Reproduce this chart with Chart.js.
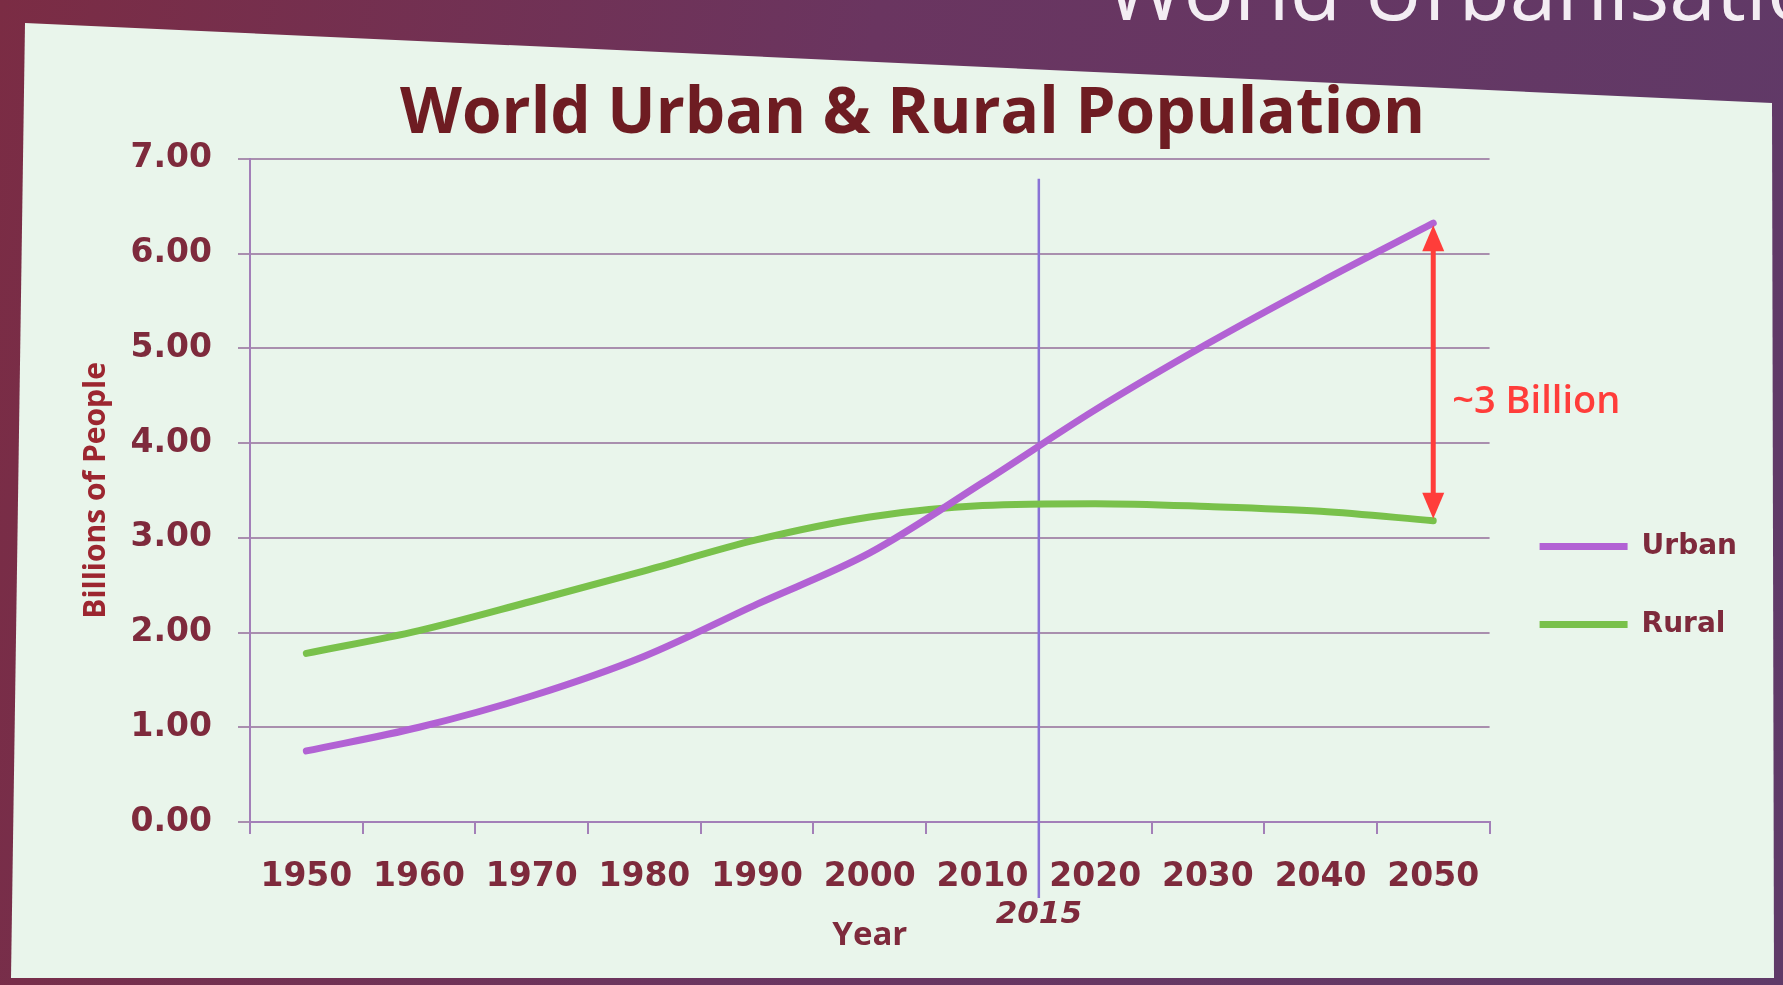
<!DOCTYPE html>
<html>
<head>
<meta charset="utf-8">
<title>World Urban &amp; Rural Population</title>
<script src="https://cdn.jsdelivr.net/npm/chart.js@4.4.1/dist/chart.umd.min.js"></script>
<style>
    html, body {
        margin: 0;
        padding: 0;
        width: 1783px;
        height: 985px;
        overflow: hidden;
    }
    body {
        position: relative;
        background: linear-gradient(100deg, #7b2c44 0%, #6a3560 45%, #5f3a68 100%);
        font-family: "Open Sans", sans-serif;
    }
    .slide-head {
        position: absolute;
        left: 1106px;
        top: -70px;
        font-size: 84px;
        color: #f3edf3;
        white-space: nowrap;
    }
    .panel {
        position: absolute;
        left: 0;
        top: 0;
        width: 1783px;
        height: 985px;
        background: #e9f5eb;
        clip-path: polygon(25px 23px, 1772px 103px, 1774px 978px, 11px 978px);
    }
    #chart-wrap {
        position: absolute;
        left: 0;
        top: 0;
        width: 1783px;
        height: 985px;
    }
</style>
</head>
<body>
<div class="slide-head">World Urbanisation</div>
<div class="panel"></div>
<div id="chart-wrap"><canvas id="popChart" width="1783" height="985"></canvas></div>
<script>
// data (billions of people)
var years = [1950, 1960, 1970, 1980, 1990, 2000, 2010, 2020, 2030, 2040, 2050];
var urban = [0.75, 1.00, 1.33, 1.75, 2.30, 2.84, 3.58, 4.35, 5.05, 5.70, 6.32];
var rural = [1.78, 2.02, 2.33, 2.65, 2.98, 3.22, 3.34, 3.36, 3.33, 3.28, 3.18];
var yMin = 0;
var yMax = 7;
var yStep = 1;
var markYear = 2015;
var gapText = '~3 Billion';

var maroon = '#7e2a3c';
var gridColor = '#a98fae';
var axisColor = '#a37fb8';

// 2015 marker, gap arrow and its label
var notes = {
    id: 'notes',
    beforeDatasetsDraw: function (chart) {
        var ctx = chart.ctx;
        var x = chart.scales.x;
        var area = chart.chartArea;
        var idx = (markYear - years[0]) / (years[1] - years[0]);
        var px = x.getPixelForValue(idx);
        ctx.save();
        ctx.strokeStyle = '#8a74d6';
        ctx.lineWidth = 2.5;
        ctx.beginPath();
        ctx.moveTo(px, area.top + 20);
        ctx.lineTo(px, area.bottom + 76);
        ctx.stroke();
        ctx.fillStyle = maroon;
        ctx.font = 'italic bold 31px "DejaVu Sans"';
        ctx.textAlign = 'center';
        ctx.textBaseline = 'middle';
        ctx.fillText(String(markYear), px, area.bottom + 93);
        ctx.restore();
    },
    afterDatasetsDraw: function (chart) {
        var ctx = chart.ctx;
        var x = chart.scales.x;
        var y = chart.scales.y;
        var last = years.length - 1;
        var ax = x.getPixelForValue(last);
        var top = y.getPixelForValue(urban[last]);
        var bot = y.getPixelForValue(rural[last]);
        var red = '#ff3d3a';
        ctx.save();
        ctx.strokeStyle = red;
        ctx.fillStyle = red;
        ctx.lineWidth = 5;
        ctx.beginPath();
        ctx.moveTo(ax, top + 20);
        ctx.lineTo(ax, bot - 20);
        ctx.stroke();
        ctx.beginPath();
        ctx.moveTo(ax, top + 2);
        ctx.lineTo(ax - 11, top + 28);
        ctx.lineTo(ax + 11, top + 28);
        ctx.closePath();
        ctx.fill();
        ctx.beginPath();
        ctx.moveTo(ax, bot - 2);
        ctx.lineTo(ax - 11, bot - 28);
        ctx.lineTo(ax + 11, bot - 28);
        ctx.closePath();
        ctx.fill();
        ctx.font = '600 38px "Open Sans"';
        ctx.textAlign = 'left';
        ctx.textBaseline = 'middle';
        ctx.fillText(gapText, ax + 19, (top + bot) / 2 + 30);
        ctx.restore();
    }
};

var ctx = document.getElementById('popChart').getContext('2d');
var popChart = new Chart(ctx, {
    type: 'line',
    data: {
        labels: years.map(String),
        datasets: [
            {
                label: 'Urban',
                data: urban,
                borderColor: '#b262d4',
                backgroundColor: '#b262d4',
                borderWidth: 7,
                pointRadius: 0,
                cubicInterpolationMode: 'monotone',
                borderCapStyle: 'round'
            },
            {
                label: 'Rural',
                data: rural,
                borderColor: '#79c14b',
                backgroundColor: '#79c14b',
                borderWidth: 7,
                pointRadius: 0,
                cubicInterpolationMode: 'monotone',
                borderCapStyle: 'round'
            }
        ]
    },
    options: {
        responsive: false,
        animation: false,
        devicePixelRatio: 1,
        layout: {
            padding: {left: 78, right: 36, top: 0, bottom: 0}
        },
        plugins: {
            title: {
                display: true,
                text: 'World Urban & Rural Population',
                color: '#6e1c22',
                font: {family: '"Open Sans"', size: 64, weight: 'bold'},
                padding: {top: 76, bottom: 6}
            },
            legend: {
                position: 'right',
                title: {display: true, text: '', font: {size: 10}, padding: {top: 87, bottom: 87}},
                labels: {
                    usePointStyle: true,
                    pointStyle: 'line',
                    pointStyleWidth: 88,
                    padding: 50,
                    color: maroon,
                    font: {family: '"DejaVu Sans"', size: 28, weight: 'bold'}
                }
            },
            tooltip: {enabled: false}
        },
        scales: {
            x: {
                offset: true,
                grid: {offset: true, drawOnChartArea: false, tickLength: 12, color: axisColor, lineWidth: 2},
                border: {color: axisColor, width: 2},
                ticks: {
                    autoSkip: false,
                    maxRotation: 0,
                    padding: 24,
                    color: maroon,
                    font: {family: '"DejaVu Sans"', size: 33, weight: 'bold'}
                },
                title: {
                    display: true,
                    text: 'Year',
                    color: maroon,
                    font: {family: '"Open Sans"', size: 33, weight: 'bold'},
                    padding: {top: 0, bottom: 30}
                },
                afterFit: function (s) { s.height = 163; }
            },
            y: {
                min: yMin,
                max: yMax,
                grid: {color: gridColor, lineWidth: 2, tickLength: 12},
                border: {color: axisColor, width: 2},
                ticks: {
                    stepSize: yStep,
                    padding: 26,
                    color: maroon,
                    font: {family: '"DejaVu Sans"', size: 33, weight: 'bold'},
                    callback: function (v) { return v.toFixed(2); }
                },
                title: {
                    display: true,
                    text: 'Billions of People',
                    color: '#9c2630',
                    font: {family: '"Open Sans"', size: 30, weight: 'bold'},
                    padding: {top: 0, bottom: 0}
                },
                afterFit: function (s) { s.width = 172; }
            }
        }
    },
    plugins: [notes]
});
</script>
</body>
</html>
